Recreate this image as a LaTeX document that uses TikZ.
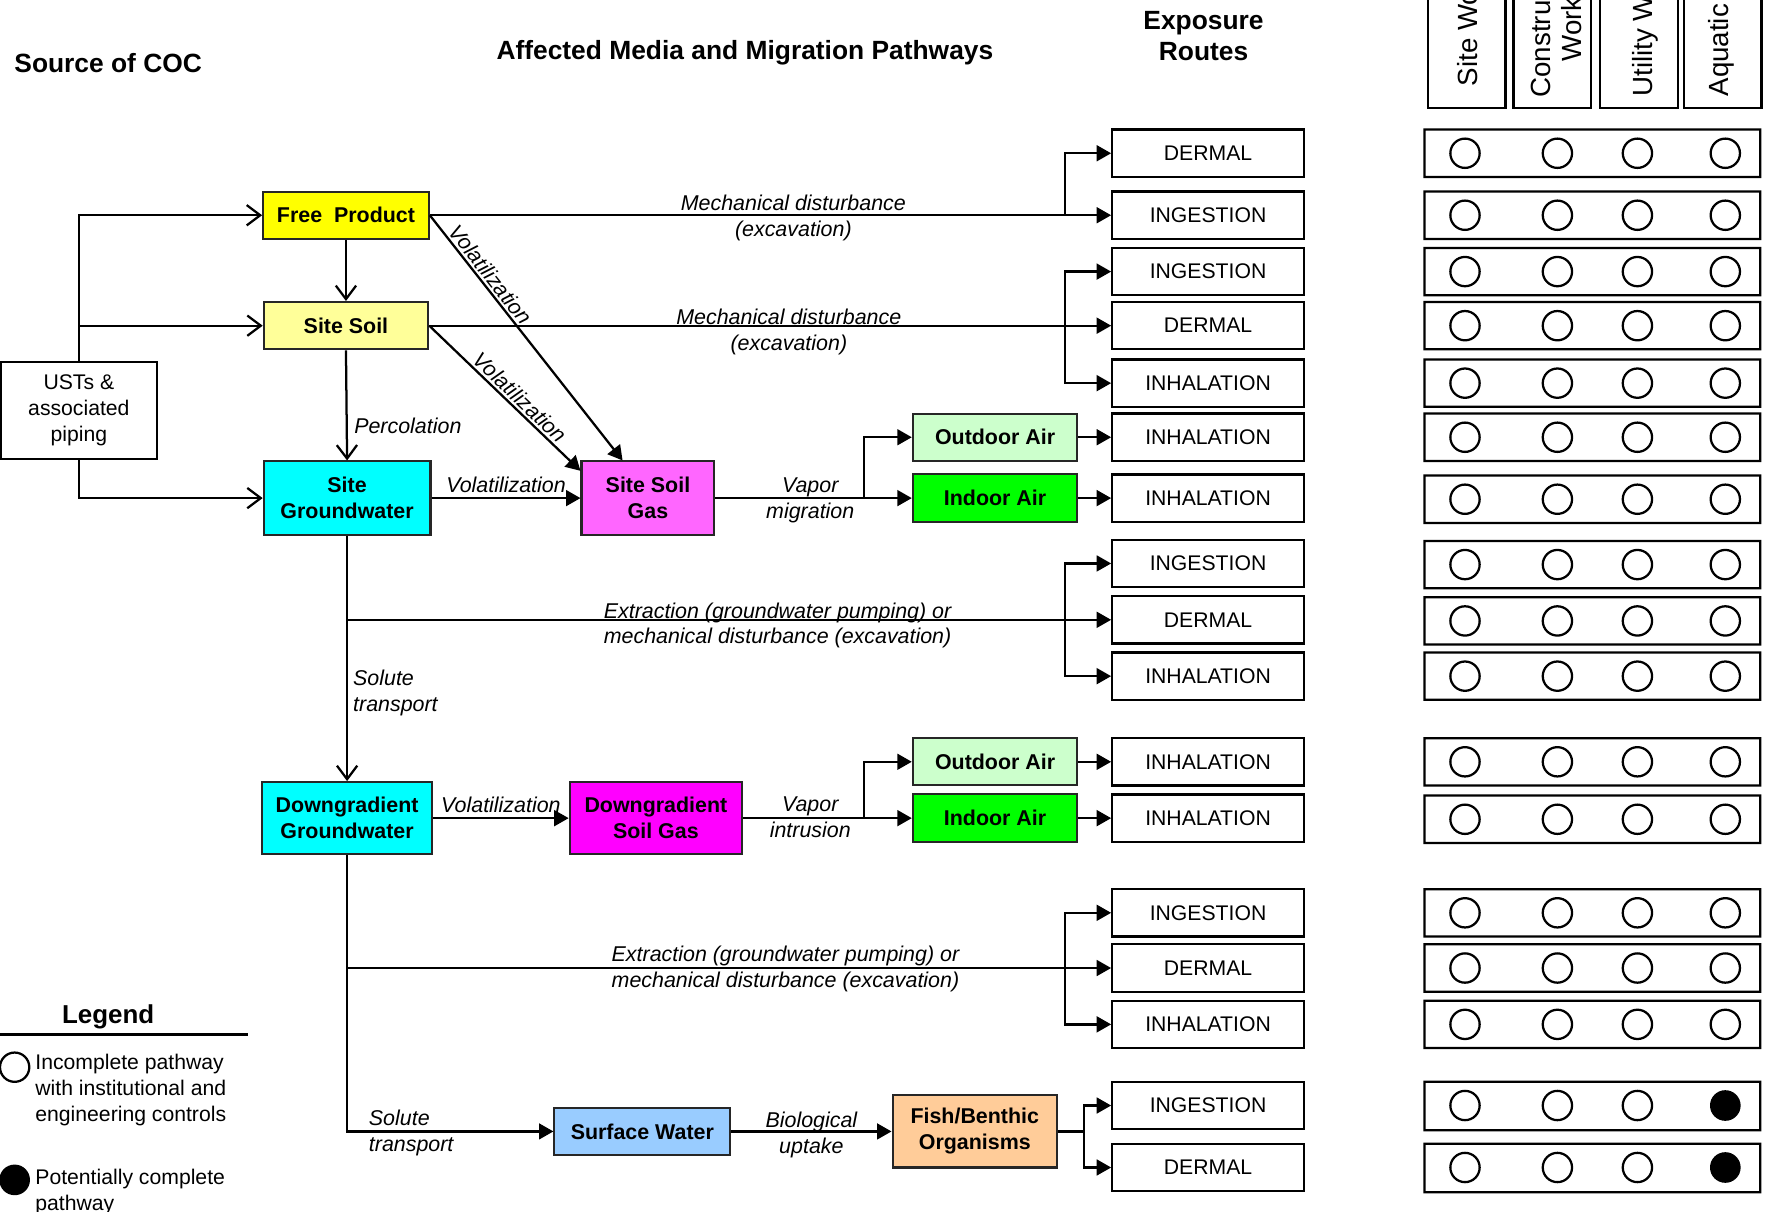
\documentclass[tikz,border=0pt]{standalone}
\usepackage{fontspec}
\setmainfont{Liberation Sans}
\usetikzlibrary{arrows.meta}
\usetikzlibrary{positioning}

\definecolor{fpyellow}{HTML}{FFFF00}
\definecolor{soilyellow}{HTML}{FFFF99}
\definecolor{gwcyan}{HTML}{00FFFF}
\definecolor{gaspink}{HTML}{FF66FF}
\definecolor{gasmagenta}{HTML}{FF00FF}
\definecolor{outgreen}{HTML}{CCFFCC}
\definecolor{ingreen}{HTML}{00FF00}
\definecolor{swblue}{HTML}{99CCFF}
\definecolor{fishtan}{HTML}{FFCC99}

\tikzset{
  media/.style={draw=black!85, line width=0.9pt, align=center, inner sep=0pt,
    font=\fontsize{9.5}{11.5}\selectfont\bfseries},
  route/.style={draw, line width=1pt, minimum width=85pt, minimum height=21pt, inner sep=0pt,
    font=\fontsize{9.4}{11}\selectfont},
  pathlabel/.style={align=center, inner sep=0pt, font=\fontsize{9.5}{11.5}\selectfont\itshape},
  link/.style={line width=1pt},
  flow/.style={link, -{Triangle[length=6.4pt,width=7pt]}},
  feed/.style={link, -{Straight Barb[length=6pt,width=9pt,line width=1pt]}},
  header/.style={font=\fontsize{11.7}{14}\selectfont\bfseries, align=center, inner sep=0pt},
  receptor/.style={rotate=90, anchor=base west, inner sep=0pt, font=\fontsize{12.3}{15}\selectfont},
  tabrow/.style={line width=1pt},
  legendtext/.style={anchor=west, align=left, inner sep=0pt, font=\fontsize{9.4}{11.5}\selectfont},
}

\begin{document}
\begin{tikzpicture}[x=0.5pt,y=-0.5pt]
\useasboundingbox (0,0) rectangle (1568,1075);

\node[header] (hsrc) at (96,56) {Source of COC};
\node[header] (hmed) at (661,47) {Affected Media and Migration Pathways};
\node[header] (hexp) at (1068,32) {Exposure\\Routes};

\draw[tabrow] (1267,-10) rectangle (1336,96);
\draw[tabrow] (1343,-10) rectangle (1412,96);
\draw[tabrow] (1420,-10) rectangle (1489,96);
\draw[tabrow] (1494,-10) rectangle (1563,96);
\node[receptor] (rc1) at (1311,77) {Site Wo};
\node[receptor] (rc2) at (1376,87) {Constru};
\node[receptor] (rc2b) at (1403,55) {Work};
\node[receptor] (rc3) at (1466,86) {Utility W};
\node[receptor] (rc4) at (1534,86) {Aquatic};

\node[draw, line width=0.9pt, minimum width=69pt, minimum height=43pt, align=center, inner sep=0pt,
  font=\fontsize{9.4}{11.5}\selectfont] (ust) at (70,364) {USTs \&\\associated\\piping};

\node[media, fill=fpyellow, minimum width=73.5pt, minimum height=21pt] (fp) at (307,191) {Free~~Product};
\node[media, fill=soilyellow, minimum width=73pt, minimum height=21pt] (soil) at (307,289) {Site Soil};
\node[media, fill=gwcyan, minimum width=74pt, minimum height=32.5pt] (sgw) at (308,442) {Site\\Groundwater};
\node[media, fill=gaspink, minimum width=59pt, minimum height=32.5pt] (sgas) at (575,442) {Site Soil\\Gas};
\node[media, fill=outgreen, minimum width=73pt, minimum height=21pt] (oair1) at (883,388) {Outdoor Air};
\node[media, fill=ingreen, minimum width=73pt, minimum height=21pt] (iair1) at (883,442) {Indoor Air};
\node[media, fill=gwcyan, minimum width=75.5pt, minimum height=32pt] (dgw) at (308,726) {Downgradient\\Groundwater};
\node[media, fill=gasmagenta, minimum width=76.5pt, minimum height=32pt] (dgas) at (582,726) {Downgradient\\Soil Gas};
\node[media, fill=outgreen, minimum width=73pt, minimum height=21pt] (oair2) at (883,676) {Outdoor Air};
\node[media, fill=ingreen, minimum width=73pt, minimum height=21pt] (iair2) at (883,726) {Indoor Air};
\node[media, fill=swblue, minimum width=78pt, minimum height=20.5pt] (sw) at (570,1004) {Surface Water};
\node[media, fill=fishtan, minimum width=73pt, minimum height=32pt] (fish) at (865,1004) {Fish/Benthic\\Organisms};

\node[route] (r1) at (1072,136) {DERMAL};
\node[route] (r2) at (1072,191) {INGESTION};
\node[route] (r3) at (1072,241) {INGESTION};
\node[route] (r4) at (1072,289) {DERMAL};
\node[route] (r5) at (1072,340) {INHALATION};
\node[route] (r6) at (1072,388) {INHALATION};
\node[route] (r7) at (1072,442) {INHALATION};
\node[route] (r8) at (1072,500) {INGESTION};
\node[route] (r9) at (1072,550) {DERMAL};
\node[route] (r10) at (1072,600) {INHALATION};
\node[route] (r11) at (1072,676) {INHALATION};
\node[route] (r12) at (1072,726) {INHALATION};
\node[route] (r13) at (1072,810) {INGESTION};
\node[route] (r14) at (1072,859) {DERMAL};
\node[route] (r15) at (1072,909) {INHALATION};
\node[route] (r16) at (1072,981) {INGESTION};
\node[route] (r17) at (1072,1036) {DERMAL};

\draw[tabrow] (1264,115) rectangle (1562,157) (1300,136) circle[radius=6.5pt] (1382,136) circle[radius=6.5pt] (1453,136) circle[radius=6.5pt] (1531,136) circle[radius=6.5pt];
\draw[tabrow] (1264,170) rectangle (1562,212) (1300,191) circle[radius=6.5pt] (1382,191) circle[radius=6.5pt] (1453,191) circle[radius=6.5pt] (1531,191) circle[radius=6.5pt];
\draw[tabrow] (1264,220) rectangle (1562,262) (1300,241) circle[radius=6.5pt] (1382,241) circle[radius=6.5pt] (1453,241) circle[radius=6.5pt] (1531,241) circle[radius=6.5pt];
\draw[tabrow] (1264,268) rectangle (1562,310) (1300,289) circle[radius=6.5pt] (1382,289) circle[radius=6.5pt] (1453,289) circle[radius=6.5pt] (1531,289) circle[radius=6.5pt];
\draw[tabrow] (1264,319) rectangle (1562,361) (1300,340) circle[radius=6.5pt] (1382,340) circle[radius=6.5pt] (1453,340) circle[radius=6.5pt] (1531,340) circle[radius=6.5pt];
\draw[tabrow] (1264,367) rectangle (1562,409) (1300,388) circle[radius=6.5pt] (1382,388) circle[radius=6.5pt] (1453,388) circle[radius=6.5pt] (1531,388) circle[radius=6.5pt];
\draw[tabrow] (1264,422) rectangle (1562,464) (1300,443) circle[radius=6.5pt] (1382,443) circle[radius=6.5pt] (1453,443) circle[radius=6.5pt] (1531,443) circle[radius=6.5pt];
\draw[tabrow] (1264,480) rectangle (1562,522) (1300,501) circle[radius=6.5pt] (1382,501) circle[radius=6.5pt] (1453,501) circle[radius=6.5pt] (1531,501) circle[radius=6.5pt];
\draw[tabrow] (1264,530) rectangle (1562,572) (1300,551) circle[radius=6.5pt] (1382,551) circle[radius=6.5pt] (1453,551) circle[radius=6.5pt] (1531,551) circle[radius=6.5pt];
\draw[tabrow] (1264,579) rectangle (1562,621) (1300,600) circle[radius=6.5pt] (1382,600) circle[radius=6.5pt] (1453,600) circle[radius=6.5pt] (1531,600) circle[radius=6.5pt];
\draw[tabrow] (1264,655) rectangle (1562,697) (1300,676) circle[radius=6.5pt] (1382,676) circle[radius=6.5pt] (1453,676) circle[radius=6.5pt] (1531,676) circle[radius=6.5pt];
\draw[tabrow] (1264,706) rectangle (1562,748) (1300,727) circle[radius=6.5pt] (1382,727) circle[radius=6.5pt] (1453,727) circle[radius=6.5pt] (1531,727) circle[radius=6.5pt];
\draw[tabrow] (1264,789) rectangle (1562,831) (1300,810) circle[radius=6.5pt] (1382,810) circle[radius=6.5pt] (1453,810) circle[radius=6.5pt] (1531,810) circle[radius=6.5pt];
\draw[tabrow] (1264,838) rectangle (1562,880) (1300,859) circle[radius=6.5pt] (1382,859) circle[radius=6.5pt] (1453,859) circle[radius=6.5pt] (1531,859) circle[radius=6.5pt];
\draw[tabrow] (1264,888) rectangle (1562,930) (1300,909) circle[radius=6.5pt] (1382,909) circle[radius=6.5pt] (1453,909) circle[radius=6.5pt] (1531,909) circle[radius=6.5pt];
\draw[tabrow] (1264,960) rectangle (1562,1003) (1300,981) circle[radius=6.5pt] (1382,981) circle[radius=6.5pt] (1453,981) circle[radius=6.5pt];
\fill (1531,981) circle[radius=6.8pt];
\draw[tabrow] (1264,1015) rectangle (1562,1058) (1300,1036) circle[radius=6.5pt] (1382,1036) circle[radius=6.5pt] (1453,1036) circle[radius=6.5pt];
\fill (1531,1036) circle[radius=6.8pt];

\draw[feed] (ust.north) |- (fp.west);
\draw[feed] (ust.north |- soil.west) -- (soil.west);
\draw[feed] (ust.south) |- (sgw.west);
\draw[feed] (fp.south) -- (soil.north);
\draw[feed] (soil.south) -- (sgw.north);
\node[pathlabel, anchor=west] (perc) at (314,378) {Percolation};

\draw[flow] (fp.east) -- node[pathlabel, sloped, above=1pt, pos=0.27] (vol1) {Volatilization} (sgas.124);
\draw[flow] (soil.east) -- node[pathlabel, sloped, above=1pt, pos=0.55] (vol2) {Volatilization} (sgas.158);
\draw[flow] (sgw.east) -- node[pathlabel, above=2pt] (vol3) {Volatilization} (sgas.west);

\coordinate (k1) at (945,191);
\draw[flow] (fp.east) -- (r2.west);
\draw[flow] (k1) |- (r1.west);
\node[pathlabel] (mech1) at (704,193.5) {Mechanical disturbance\\(excavation)};

\coordinate (k2) at (945,289);
\draw[flow] (soil.east) -- (r4.west);
\draw[flow] (k2) |- (r3.west);
\draw[flow] (k2) |- (r5.west);
\node[pathlabel] (mech2) at (700,294.5) {Mechanical disturbance\\(excavation)};

\coordinate (v1) at (767,442);
\draw[link] (sgas.east) -- (v1);
\draw[flow] (v1) |- (oair1.west);
\draw[flow] (v1) -- (iair1.west);
\node[pathlabel] (vap1) at (719,444) {Vapor\\migration};
\draw[flow] (oair1.east) -- (r6.west);
\draw[flow] (iair1.east) -- (r7.west);

\draw[feed] (sgw.south) -- (dgw.north);
\coordinate (j1) at (308,550);
\coordinate (k3) at (945,550);
\draw[flow] (j1) -- (r9.west);
\draw[flow] (k3) |- (r8.west);
\draw[flow] (k3) |- (r10.west);
\node[pathlabel] (ext1) at (690,555) {Extraction (groundwater pumping) or\\mechanical disturbance (excavation)};
\node[pathlabel, anchor=west, align=left] (sol1) at (313,615) {Solute\\transport};

\draw[flow] (dgw.east) -- node[pathlabel, above=2pt] (vol4) {Volatilization} (dgas.west);
\coordinate (v2) at (767,726);
\draw[link] (dgas.east) -- (v2);
\draw[flow] (v2) |- (oair2.west);
\draw[flow] (v2) -- (iair2.west);
\node[pathlabel] (vap2) at (719,725) {Vapor\\intrusion};
\draw[flow] (oair2.east) -- (r11.west);
\draw[flow] (iair2.east) -- (r12.west);

\draw[flow] (dgw.south) |- (sw.west);
\coordinate (j2) at (308,859);
\coordinate (k4) at (945,859);
\draw[flow] (j2) -- (r14.west);
\draw[flow] (k4) |- (r13.west);
\draw[flow] (k4) |- (r15.west);
\node[pathlabel] (ext2) at (697,860) {Extraction (groundwater pumping) or\\mechanical disturbance (excavation)};
\node[pathlabel, anchor=west, align=left] (sol2) at (327,1005) {Solute\\transport};

\draw[flow] (sw.east) -- node[pathlabel, yshift=-1.5pt] (bio) {Biological\\uptake} (fish.west);
\coordinate (k5) at (962,1004);
\draw[link] (fish.east) -- (k5);
\draw[flow] (k5) |- (r16.west);
\draw[flow] (k5) |- (r17.west);

\node[font=\fontsize{11.5}{14}\selectfont\bfseries, inner sep=0pt] (lgd) at (96,902) {Legend};
\draw[line width=1.5pt] (0,918) -- (220,918);
\draw[line width=1pt] (13,947) circle[radius=6.5pt];
\node[legendtext] (lgd1) at (31,967) {Incomplete pathway\\with institutional and\\engineering controls};
\fill (13,1047) circle[radius=6.8pt];
\node[legendtext] (lgd2) at (31,1058) {Potentially complete\\pathway};
\end{tikzpicture}
\end{document}
